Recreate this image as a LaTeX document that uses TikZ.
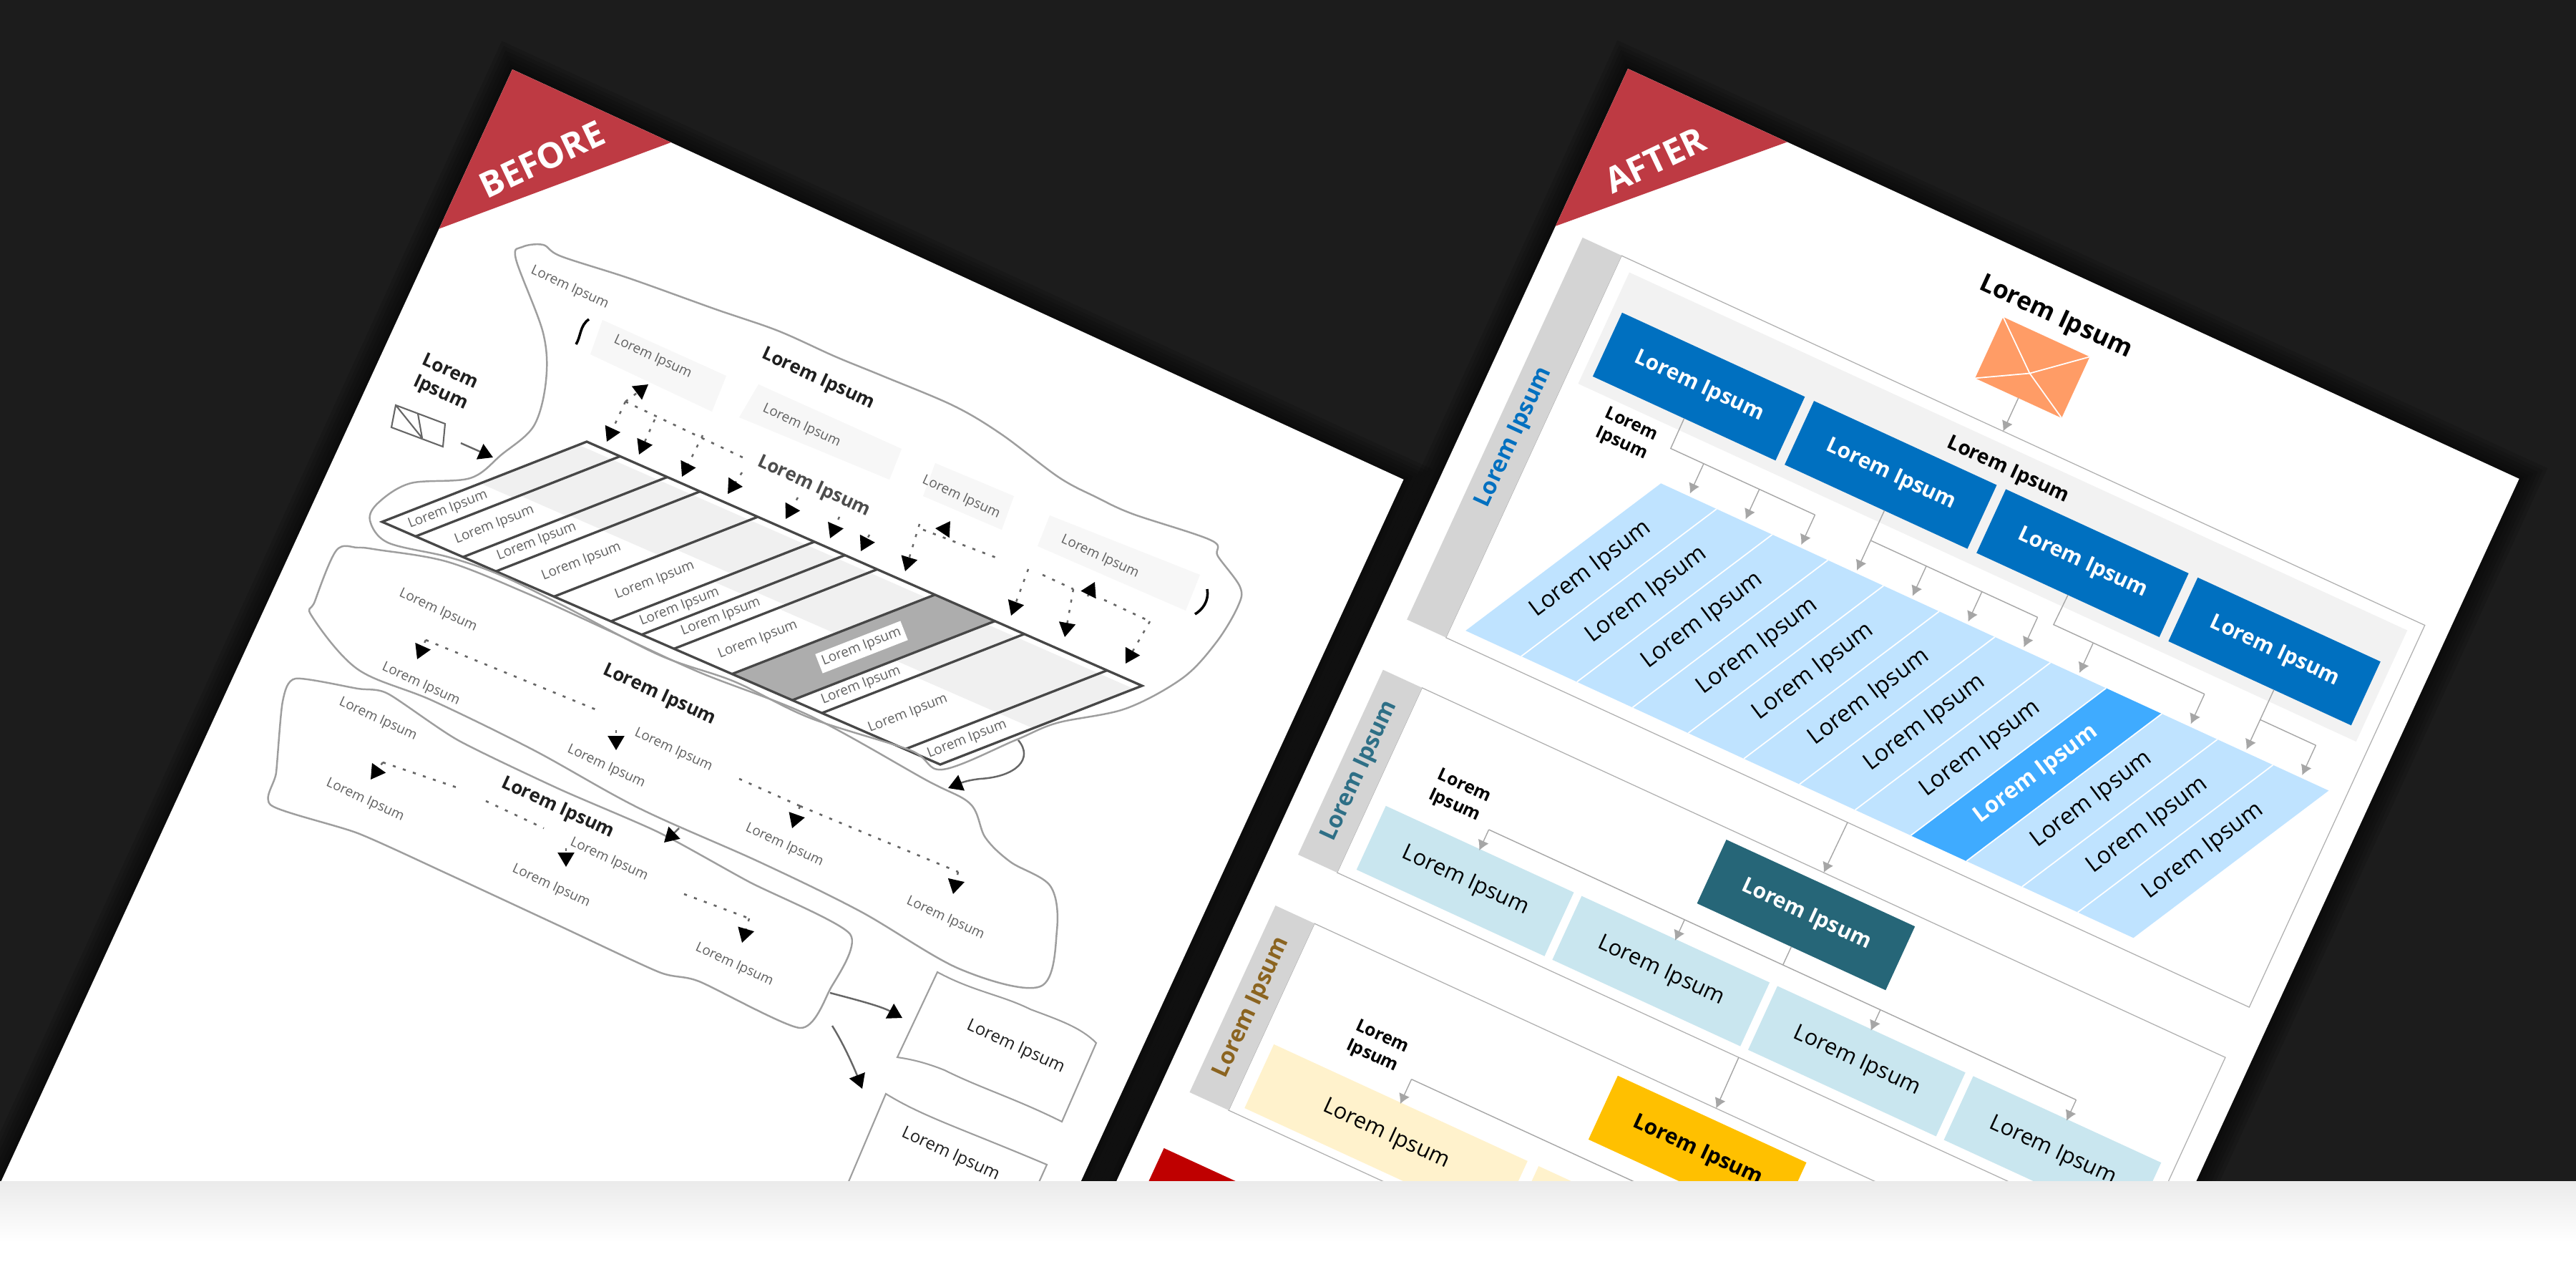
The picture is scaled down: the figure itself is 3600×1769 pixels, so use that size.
\documentclass[tikz,border=0pt]{standalone}
\usepackage{fontspec}
\setmainfont{Open Sans}
\usetikzlibrary{arrows.meta,positioning,calc}

\definecolor{pagebg}{HTML}{1C1C1C}
\definecolor{tagred}{HTML}{BE3A43}
\definecolor{headblue}{HTML}{0070C0}
\definecolor{colblue}{HTML}{BFE3FF}
\definecolor{colhi}{HTML}{3FABFF}
\definecolor{teal}{HTML}{266678}
\definecolor{paleteal}{HTML}{C9E6EF}
\definecolor{cream}{HTML}{FFF2CC}
\definecolor{amber}{HTML}{FFC000}
\definecolor{brownlab}{HTML}{8B6420}
\definecolor{tealab}{HTML}{2E6F86}
\definecolor{envorange}{HTML}{FF9C66}
\definecolor{linegray}{HTML}{A6A6A6}

\begin{document}
\begin{tikzpicture}[
  x=0.01cm, y=-0.01cm,
  tag/.style={text=white, font=\fontsize{14}{16}\selectfont\bfseries, inner sep=0pt},
  framebox/.style={draw=linegray!90, line width=0.35pt, anchor=north west, inner sep=0pt, outer sep=0pt},
  sidebar/.style={fill=black!17, rotate=90, minimum height=0.6cm, inner sep=0pt, outer sep=0pt,
                  font=\fontsize{9.2}{12}\selectfont\bfseries},
  box/.style={inner sep=0pt, outer sep=0pt, minimum height=0.98cm, align=center, font=\fontsize{8.8}{11}\selectfont},
  head/.style={box, fill=headblue, text=white, minimum width=2.81cm, font=\fontsize{8.5}{11}\selectfont\bfseries},
  coltext/.style={font=\fontsize{9.3}{11}\selectfont, inner sep=0pt, rotate=61.7},
  small/.style={font=\fontsize{7}{8.5}\selectfont\bfseries, align=left, inner sep=0pt},
  link/.style={draw=linegray, line width=0.4pt},
  flow/.style={-{Latex[length=1.4mm,width=1.6mm]}, draw=linegray, line width=0.4pt},
  blob/.style={draw=black!38, line width=0.7pt},
  sktext/.style={font=\fontsize{5.4}{6}\selectfont, text=black!62, inner sep=0pt, rotate=-24.7},
  sktitle/.style={font=\fontsize{7.4}{9}\selectfont\bfseries, text=black!88, inner sep=0pt, rotate=-24.7},
  skdash/.style={draw=black!60, line width=0.75pt, dash pattern=on 1.2pt off 3pt},
  skhead/.style={-{Triangle[length=2mm,width=2.3mm,color=black]}, draw=black!60, line width=0.7pt},
  pale/.style={fill=black!3}
]
  \useasboundingbox (0,0) rectangle (3600,1769);
  \clip (0,0) rectangle (3600,1800);
  \fill[pagebg] (0,0) rectangle (3600,1800);

  % before page
  \begin{scope}[shift={(716,97)},rotate=-24.7,transform shape]
    \foreach \w in {1mm,2mm,3mm,4mm,5mm,6mm}
      \draw[black, opacity=0.11, line width=\w] (0,0) -- (1371,0) -- (1371,2400) -- (0,2400) -- cycle;
    \fill[white] (0,0) rectangle (1371,2400);
    \fill[tagred] (0,0) -- (244,0) -- (0,245) -- cycle;
    \node[tag, rotate=50] (beforetag) at (90,97) {BEFORE};
  \end{scope}

  % scanned sketch
  \fill[pale] (1060,537) -- (1260,627) -- (1243,670) -- (1033,583) -- cycle;
  \fill[pale] (1307,647) -- (1417,693) -- (1400,740) -- (1290,693) -- cycle;
  \fill[pale] (1467,720) -- (1677,803) -- (1657,853) -- (1450,763) -- cycle;
  \fill[pale] (842,447) -- (1015,525) -- (995,575) -- (825,495) -- cycle;

  \coordinate (tL) at (534,729);
  \coordinate (tT) at (820,617);
  \coordinate (tR) at (1596,958);
  \coordinate (tB) at (1314,1068);

  \foreach \a/\b/\s [count=\i] in {0/.06/.24,.06/.145/.27,.145/.204/.28,.204/.308/.277,.308/.41/.355,.41/.465/.262,
                                   .465/.523/.31,.523/.627/.27,.735/.788/.266,.788/.937/.22,.937/1/.22}{
    \pgfmathsetmacro\sa{\s+.24}
    \pgfmathsetmacro\m{(\a+\b)/2}
    \fill[black!6] ($($(tL)!\a!(tB)$)!\sa!($(tT)!\a!(tR)$)$) -- ($($(tL)!\a!(tB)$)!.96!($(tT)!\a!(tR)$)$)
       -- ($($(tL)!\b!(tB)$)!.96!($(tT)!\b!(tR)$)$) -- ($($(tL)!\b!(tB)$)!\sa!($(tT)!\b!(tR)$)$) -- cycle;
    \node[sktext, rotate=46] (row\i) at ($($(tL)!\m!(tB)$)!\s!($(tT)!\m!(tR)$)$) {Lorem Ipsum};
  }
  \fill[black!32] ($(tL)!.627!(tB)$) -- ($(tT)!.627!(tR)$) -- ($(tT)!.735!(tR)$) -- ($(tL)!.735!(tB)$) -- cycle;
  \node[sktext, rotate=46, fill=white, inner sep=1.5pt] (rowhi) at (1204,904) {Lorem Ipsum};

  \draw[draw=black!72, line width=0.95pt] (tL) -- (tT) -- (tR) -- (tB) -- cycle;
  \foreach \t in {.06,.145,.204,.308,.41,.465,.523,.627,.735,.788,.937}
    \draw[draw=black!72, line width=0.95pt] ($(tL)!\t!(tB)$) -- ($(tT)!\t!(tR)$);

  \draw[blob] plot[smooth cycle, tension=.55] coordinates {
    (721,362) (730,345) (759,342) (784,358) (880,389) (1000,432) (1087,462) (1167,498) (1233,525) (1333,567)
    (1400,607) (1480,667) (1533,695) (1583,718) (1693,755) (1702,777) (1733,820) (1730,847) (1700,897) (1653,947)
    (1573,990) (1477,1010) (1419,1034) (1317,1075) (1272,1048) (1132,1003) (1026,952) (921,915) (781,843) (696,802)
    (626,778) (542,758) (517,727) (529,702) (574,675) (657,668) (701,635) (746,595) (763,532) (759,465)};
  \draw[blob] plot[smooth cycle, tension=.55] coordinates {
    (500,765) (470,769) (440,840) (436,861) (500,935) (605,979) (746,1048) (893,1129) (1061,1204) (1202,1273)
    (1342,1354) (1454,1378) (1477,1300) (1468,1238) (1412,1204) (1377,1170) (1356,1123) (1293,1089) (1132,1000)
    (977,939) (851,881) (739,830) (626,785) (528,768)};
  \draw[blob] plot[smooth cycle, tension=.4] coordinates {
    (413,948) (500,962) (542,969) (640,1034) (781,1102) (921,1163) (1047,1232) (1188,1305) (1160,1382) (1118,1436)
    (977,1371) (921,1358) (781,1293) (626,1221) (500,1164) (379,1125) (386,1079) (395,980)};
  \draw[blob, line width=0.6pt] (1310,1358) .. controls (1360,1385) and (1400,1390) .. (1440,1410)
    .. controls (1480,1425) and (1510,1435) .. (1532,1457) -- (1484,1567)
    .. controls (1420,1535) and (1370,1520) .. (1320,1495) .. controls (1295,1485) and (1275,1480) .. (1254,1477) -- cycle;
  \draw[blob, line width=0.6pt] (1238,1528) .. controls (1290,1560) and (1340,1575) .. (1463,1627) -- (1430,1700) -- (1165,1700) -- cycle;

  \node[sktitle] (tall) at (622,535) {\parbox{1.4cm}{\centering\lineskip=1pt Lorem\\Ipsum}};
  \draw[draw=black!60, line width=0.6pt] (553,566) -- (622,592) -- (619,624) -- (547,597) -- cycle
    (553,566) -- (590,612) (584,578) -- (590,612);
  \draw[skhead] (644,619) -- (689,639);
  \draw[black, line width=1pt] (823,446) .. controls (810,455) and (812,470) .. (805,481);
  \draw[black, line width=1pt] (1687,823) .. controls (1690,840) and (1680,852) .. (1670,858);

  % dotted links of the sketch
  \foreach \a/\b/\c/\d in {874/561/848/617,874/561/906/537,915/586/893/635,982/608/953/666,1037/660/1017/690,
      1115/695/1098/725,1173/722/1160/752,1215/747/1203/770,1285/732/1265/798,1320/740/1328/728,
      1437/795/1413/860,1500/823/1488/890,1520/833/1530/813,1607/868/1573/927,
      595/894/583/921,861/1020/861/1048,1118/1126/1107/1157,1339/1218/1332/1249,
      535/1065/518/1089,791/1185/791/1211,1047/1283/1037/1317}
    \draw[skdash, skhead] (\a,\b) -- (\c,\d);
  \foreach \a/\b/\c/\d in {874/561/1040/640,1290/740/1400/782,1457/803/1500/823,1543/838/1607/868,
      595/894/837/993,1033/1088/1118/1126,1118/1126/1339/1218,535/1065/644/1102,679/1119/760/1157,956/1249/1047/1283}
    \draw[skdash] (\a,\b) -- (\c,\d);
  \draw[skhead] (949,1157) -- (928,1177);
  \draw[skhead] (1423,1034) .. controls (1445,1060) and (1420,1085) .. (1370,1088) .. controls (1350,1090) and (1340,1095) .. (1325,1101);
  \draw[skhead] (1160,1387) .. controls (1190,1395) and (1230,1405) .. (1261,1422);
  \draw[skhead] (1163,1433) .. controls (1180,1460) and (1195,1495) .. (1205,1521);

  \node[sktext] (t1) at (796,402) {Lorem Ipsum};
  \node[sktext] (t2) at (912,499) {Lorem Ipsum};
  \node[sktext] (t3) at (1120,595) {Lorem Ipsum};
  \node[sktext] (t4) at (1343,695) {Lorem Ipsum};
  \node[sktext] (t5) at (1537,778) {Lorem Ipsum};
  \node[sktitle] (t6) at (1143,530) {Lorem Ipsum};
  \node[sktitle, text=black!70] (t7) at (1137,680) {Lorem Ipsum};
  \node[sktext] (m1) at (612,853) {Lorem Ipsum};
  \node[sktext] (m2) at (588,956) {Lorem Ipsum};
  \node[sktext] (m3) at (847,1071) {Lorem Ipsum};
  \node[sktext] (m4) at (941,1048) {Lorem Ipsum};
  \node[sktext] (m5) at (1096,1181) {Lorem Ipsum};
  \node[sktext] (m6) at (1321,1283) {Lorem Ipsum};
  \node[sktitle] (m7) at (921,971) {Lorem Ipsum};
  \node[sktext] (n1) at (528,1005) {Lorem Ipsum};
  \node[sktext] (n2) at (510,1118) {Lorem Ipsum};
  \node[sktext] (n3) at (851,1201) {Lorem Ipsum};
  \node[sktext] (n4) at (770,1238) {Lorem Ipsum};
  \node[sktext] (n5) at (1026,1348) {Lorem Ipsum};
  \node[sktitle] (n6) at (779,1129) {Lorem Ipsum};
  \node[sktitle, font=\fontsize{6.8}{8}\selectfont] (n7) at (1419,1463) {Lorem Ipsum};
  \node[sktitle, font=\fontsize{6.8}{8}\selectfont] (n8) at (1328,1613) {Lorem Ipsum};

  % after page
  \begin{scope}[shift={(2275,96)},rotate=-24.7,transform shape]
    \foreach \w in {1mm,2mm,3mm,4mm,5mm,6mm}
      \draw[black, opacity=0.11, line width=\w] (0,0) -- (1371,0) -- (1371,2400) -- (0,2400) -- cycle;
    \fill[white] (0,0) rectangle (1371,2400);
    \fill[tagred] (0,0) -- (245,0) -- (0,242) -- cycle;
    \node[tag, rotate=50] (aftertag) at (88,100) {AFTER};

    % first section
    \node[framebox, minimum width=12.35cm, minimum height=5.87cm] (sec1) at (101,241) {};
    \node[sidebar, minimum width=5.87cm, text=headblue] (bar1) at (71,534.5) {Lorem Ipsum};
    \node[anchor=north west, fill=black!5, minimum width=11.96cm, minimum height=1.71cm, inner sep=0pt] (band) at (120,257) {};
    \node[head, anchor=north west] (h1) at (135,313) {Lorem Ipsum};
    \node[head, right=0.14cm of h1] (h2) {Lorem Ipsum};
    \node[head, right=0.14cm of h2] (h3) {Lorem Ipsum};
    \node[head, right=0.14cm of h3] (h4) {Lorem Ipsum};
    \node[fill=envorange, minimum width=1.33cm, minimum height=0.94cm, inner sep=0pt, outer sep=0pt] (env) at (688,143) {};
    \coordinate (envm) at (688,152);
    \draw[white, line width=0.5pt] (env.north west) -- (envm) -- (env.north east)
      (env.south west) -- (envm) -- (env.south east);
    \node[font=\fontsize{10}{12}\selectfont\bfseries, inner sep=0pt, above=0.12cm of env] (envlab) {Lorem Ipsum};
    \node[font=\fontsize{8}{10}\selectfont\bfseries, inner sep=0pt] (bandlab) at (717,288) {Lorem Ipsum};
    \node[small] (lab1) at (212,465) {Lorem\\Ipsum};
    \draw[flow] (env.south) -- (env.south |- sec1.north);

    \foreach \i in {0,...,11}{
      \pgfmathsetmacro\ca{284+85.6*\i}
      \pgfmathsetmacro\cb{\ca+85.6}
      \fill[colblue] (\ca,507) -- (\cb,507) -- (\cb-162,808) -- (\ca-162,808) -- cycle;
      \coordinate (top\i) at ({\ca+42.8},503);
    }
    \foreach \i in {8}{
      \pgfmathsetmacro\ca{284+85.6*\i}
      \pgfmathsetmacro\cb{\ca+85.6}
      \fill[colhi] (\ca,507) -- (\cb,507) -- (\cb-162,808) -- (\ca-162,808) -- cycle;
    }
    \foreach \i in {1,...,11}{
      \pgfmathsetmacro\ca{284+85.6*\i}
      \draw[white, line width=0.5pt] (\ca,507) -- (\ca-162,808);
    }
    \foreach \i in {0,...,7,9,10,11}{
      \pgfmathsetmacro\ca{284+85.6*\i}
      \node[coltext] (col\i) at ({\ca+42.8-81},657.5) {Lorem Ipsum};
    }
    \node[coltext, text=white, font=\fontsize{9}{11}\selectfont\bfseries] (col8) at ({284+85.6*8+42.8-81},657.5) {Lorem Ipsum};

    \coordinate (bus1) at (276,457);
    \draw[link] (h1.south) -- (bus1) -- (bus1 -| top2);
    \foreach \j in {0,1,2}
      \draw[flow] (bus1 -| top\j) -- (top\j);
    \coordinate (bus2) at (584,457);
    \draw[flow] (h2.south -| top3) -- (top3);
    \draw[link] (bus2) -- (bus2 -| top6);
    \foreach \j in {4,5,6}
      \draw[flow] (bus2 -| top\j) -- (top\j);
    \coordinate (bus3) at (865,457);
    \draw[link] (h3.south) -- (bus3) -- (bus3 -| top9);
    \foreach \j in {7,9}
      \draw[flow] (bus3 -| top\j) -- (top\j);
    \coordinate (bus4) at (1183,457);
    \draw[flow] (h4.south -| top10) -- (top10);
    \draw[link] (bus4) -- (bus4 -| top11);
    \draw[flow] (bus4 -| top11) -- (top11);

    % second section
    \node[framebox, minimum width=12.35cm, minimum height=2.84cm] (sec2) at (100,906) {};
    \node[sidebar, minimum width=2.84cm, text=tealab] (bar2) at (70,1048) {Lorem Ipsum};
    \node[box, anchor=north west, fill=teal, text=white, minimum width=2.9cm, font=\fontsize{8.5}{11}\selectfont\bfseries] (mid2) at (575,921) {Lorem Ipsum};
    \node[box, anchor=north west, fill=paleteal, minimum width=2.89cm] (l1) at (123,1077) {Lorem Ipsum};
    \node[box, fill=paleteal, minimum width=2.89cm, right=0.12cm of l1] (l2) {Lorem Ipsum};
    \node[box, fill=paleteal, minimum width=2.89cm, right=0.12cm of l2] (l3) {Lorem Ipsum};
    \node[box, fill=paleteal, minimum width=2.89cm, right=0.12cm of l3] (l4) {Lorem Ipsum};
    \node[small] (lab2) at (211,1022) {Lorem\\Ipsum};
    \draw[flow] (sec1.south) -- (sec2.north);
    \coordinate (bus5) at (720,1047);
    \draw[link] (mid2.south) -- (bus5);
    \draw[link] (bus5 -| l1.north) -- (bus5 -| l4.north);
    \foreach \j in {1,2,3,4}
      \draw[flow] (bus5 -| l\j.north) -- ([yshift=-0.02cm]l\j.north);

    % third section
    \node[framebox, minimum width=12.35cm, minimum height=2.87cm] (sec3) at (101,1268) {};
    \node[sidebar, minimum width=2.87cm, text=brownlab] (bar3) at (71,1411.5) {Lorem Ipsum};
    \node[box, anchor=north west, fill=amber, minimum width=2.9cm, font=\fontsize{8.5}{11}\selectfont\bfseries] (mid3) at (575,1284) {Lorem Ipsum};
    \node[box, anchor=north west, fill=cream, minimum width=3.9cm] (c1) at (120,1445) {Lorem Ipsum};
    \node[box, fill=cream, minimum width=3.9cm, right=0.17cm of c1] (c2) {};
    \node[small] (lab3) at (253,1388) {Lorem\\Ipsum};
    \draw[flow] (sec2.south) -- (sec3.north);
    \coordinate (bus6) at (720,1409);
    \draw[link] (mid3.south) -- (bus6);
    \draw[link] (bus6 -| c1.north) -- (bus6 -| c2.north);
    \draw[flow] (bus6 -| c1.north) -- ([yshift=-0.02cm]c1.north);

    % next slide corner
    \fill[red!75!black] (41,1641) -- (441,1641) -- (41,2040) -- cycle;
  \end{scope}

  % footer
  \fill[white] (0,1650) rectangle (3600,1800);
  \shade[top color=black!8, bottom color=white] (0,1650) rectangle (3600,1735);
\end{tikzpicture}
\end{document}
